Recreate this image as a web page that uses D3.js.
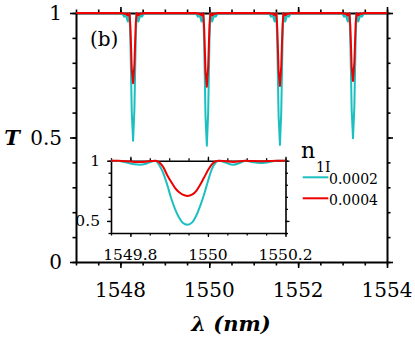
<!DOCTYPE html>
<html>
<head>
<meta charset="utf-8">
<script src="https://cdn.jsdelivr.net/npm/d3@7"></script>
<style>
  body { margin: 0; background: #fff; }
  svg { display: block; }
  text { font-family: "DejaVu Serif", serif; fill: #000; }
  .axis path, .axis line { stroke: #000; }
</style>
</head>
<body>
<script>
var W = 415, H = 342;

// legend / series
var seriesNames = ["0.0002", "0.0004"],
    seriesColors = ["#1cbfbf", "#ee0000"];

// main panel: wavelength (nm) and transmission
var mainLambda = [1547,
  1548.035, 1548.085, 1548.125, 1548.165, 1548.205, 1548.225, 1548.255, 1548.285, 1548.315, 1548.345, 1548.365, 1548.405, 1548.445, 1548.485, 1548.535,
  1549.695, 1549.745, 1549.785, 1549.825, 1549.865, 1549.885, 1549.915, 1549.945, 1549.975, 1550.005, 1550.025, 1550.065, 1550.105, 1550.145, 1550.195,
  1551.34, 1551.39, 1551.43, 1551.47, 1551.51, 1551.53, 1551.56, 1551.59, 1551.62, 1551.65, 1551.67, 1551.71, 1551.75, 1551.79, 1551.84,
  1552.985, 1553.035, 1553.075, 1553.115, 1553.155, 1553.175, 1553.205, 1553.235, 1553.265, 1553.295, 1553.315, 1553.355, 1553.395, 1553.435, 1553.485,
  1554];
var mainCyan = [1,
  1, .985, .99, .966, 1, .885, .601, .487, .615, .904, 1, .966, .99, .985, 1,
  1, .985, .99, .966, 1, .88, .585, .467, .60, .90, 1, .966, .99, .985, 1,
  1, .985, .99, .966, 1, .881, .588, .47, .602, .90, 1, .966, .99, .985, 1,
  1, .985, .99, .966, 1, .887, .609, .497, .623, .905, 1, .966, .99, .985, 1,
  1];
var mainRed = [1,
  1, .997, .998, .99, 1, .943, .776, .718, .795, .957, 1, .99, .998, .997, 1,
  1, .997, .998, .99, 1, .94, .765, .704, .785, .955, 1, .99, .998, .997, 1,
  1, .997, .998, .99, 1, .941, .767, .707, .787, .955, 1, .99, .998, .997, 1,
  1, .997, .998, .99, 1, .945, .783, .727, .802, .958, 1, .99, .998, .997, 1,
  1];

// inset: zoom on the dip near 1550 nm
var insetLambda = [1549.75, 1549.77, 1549.79, 1549.81, 1549.825, 1549.84, 1549.855, 1549.865, 1549.875, 1549.885,
  1549.895, 1549.905, 1549.915, 1549.925, 1549.935, 1549.947, 1549.96, 1549.97, 1549.98, 1549.99,
  1550.0, 1550.01, 1550.02, 1550.028, 1550.045, 1550.065, 1550.085, 1550.097, 1550.115, 1550.135,
  1550.155, 1550.178, 1550.2];
var insetCyan = [1, .998, .985, .97, .966, .975, .993, 1, .96, .895,
  .80, .69, .60, .53, .485, .468, .49, .545, .625, .72,
  .83, .93, .985, 1, .985, .966, .985, 1, .988, .98,
  .988, 1, 1];
var insetRed = [1, .999, .995, .99, .989, .992, .998, 1, .985, .945,
  .88, .825, .775, .74, .718, .708, .72, .75, .80, .86,
  .92, .97, .995, 1, .996, .99, .996, 1, .997, .995,
  .997, 1, 1];

// tick labels
var xMajor = [1548, 1550, 1552, 1554],
    yMajor = [0, 0.5, 1],
    ixMajor = [1549.8, 1550, 1550.2],
    iyMajor = [0.5, 1];

var svg = d3.select("body").append("svg")
    .attr("width", W)
    .attr("height", H);

var x = d3.scaleLinear().domain([1547, 1554]).range([76, 387]),
    y = d3.scaleLinear().domain([0, 1]).range([262, 13]);

var xi = d3.scaleLinear().domain([1549.75, 1550.2]).range([111, 285.5]),
    yi = d3.scaleLinear().domain([0.4, 1]).range([233, 160.7]);

var xMinor = d3.range(0, 15).map(function(i) { return 1547 + i * 0.5; }),
    yMinor = d3.range(0, 11).map(function(i) { return i / 10; }),
    ixMinor = d3.range(0, 10).map(function(i) { return 1549.75 + i * 0.05; }),
    iyMinor = d3.range(0, 7).map(function(i) { return 0.4 + i / 10; });

function fmt(d) { return d3.format("~g")(d); }

// draw a frame of four axes: minor ticks everywhere, major ticks longer
function frame(g, sx, sy, minX, majX, minY, majY, big, small, lw) {
  var r = sx.range(), t = sy.range();
  var specs = [
    [d3.axisBottom(sx), "translate(0," + t[0] + ")", minX, majX],
    [d3.axisTop(sx), "translate(0," + t[1] + ")", minX, majX],
    [d3.axisLeft(sy), "translate(" + r[0] + ",0)", minY, majY],
    [d3.axisRight(sy), "translate(" + r[1] + ",0)", minY, majY]
  ];
  specs.forEach(function(s) {
    g.append("g").attr("class", "axis").attr("transform", s[1])
      .call(s[0].tickValues(s[2]).tickSize(small).tickSizeOuter(0).tickFormat(""))
      .call(function(a) {
        a.select(".domain").attr("stroke-width", lw);
        a.selectAll(".tick line").attr("stroke-width", lw * 0.8);
      });
    var ax = s[0].scale().copy ? s[0] : s[0];
    g.append("g").attr("class", "axis").attr("transform", s[1])
      .call(ax.tickValues(s[3]).tickSize(big).tickSizeOuter(0).tickFormat(""))
      .call(function(a) {
        a.select(".domain").remove();
        a.selectAll(".tick line").attr("stroke-width", lw * 0.8);
      });
  });
}

// main frame
var gMain = svg.append("g");
frame(gMain, x, y, xMinor, xMajor, yMinor, yMajor, 6, 3.5, 2);

// main tick labels
gMain.selectAll(".xlab").data(xMajor).enter().append("text")
    .attr("x", function(d) { return x(d); })
    .attr("y", 297)
    .attr("text-anchor", "middle")
    .style("font-size", "20px")
    .text(fmt);
gMain.selectAll(".ylab").data(yMajor).enter().append("text")
    .attr("x", 62)
    .attr("y", function(d) { return y(d) + 7; })
    .attr("text-anchor", "end")
    .style("font-size", "20px")
    .text(fmt);

// axis titles
svg.append("text")
    .attr("x", 231).attr("y", 331)
    .attr("text-anchor", "middle")
    .style("font-size", "21px").style("font-weight", "bold").style("font-style", "italic")
    .text("λ (nm)");
svg.append("text")
    .attr("x", 12).attr("y", 145)
    .attr("text-anchor", "middle")
    .style("font-size", "21px").style("font-weight", "bold").style("font-style", "italic")
    .text("T");
svg.append("text")
    .attr("x", 90).attr("y", 46)
    .style("font-size", "20px")
    .text("(b)");

// main curves
var mainLine = d3.line()
    .x(function(d) { return x(d[0]); })
    .y(function(d) { return y(d[1]); });
[mainCyan, mainRed].forEach(function(vals, k) {
  svg.append("path")
      .datum(mainLambda.map(function(l, i) { return [l, vals[i]]; }))
      .attr("fill", "none")
      .attr("stroke", seriesColors[k])
      .attr("stroke-width", 2)
      .attr("stroke-linejoin", "round")
      .attr("d", mainLine);
});

// inset
var gIn = svg.append("g");
gIn.append("rect")
    .attr("x", xi.range()[0]).attr("y", yi.range()[1])
    .attr("width", xi.range()[1] - xi.range()[0])
    .attr("height", yi.range()[0] - yi.range()[1])
    .attr("fill", "#fff");
frame(gIn, xi, yi, ixMinor, ixMajor, iyMinor, iyMajor, 4, 2.5, 1.6);

gIn.selectAll(".ixlab").data(ixMajor).enter().append("text")
    .attr("x", function(d) { return xi(d); })
    .attr("y", 260)
    .attr("text-anchor", "middle")
    .style("font-size", "15.5px")
    .text(fmt);
gIn.selectAll(".iylab").data(iyMajor).enter().append("text")
    .attr("x", 100)
    .attr("y", function(d) { return yi(d) + 5.5; })
    .attr("text-anchor", "end")
    .style("font-size", "15.5px")
    .text(fmt);

svg.append("clipPath").attr("id", "inclip")
  .append("rect")
    .attr("x", xi.range()[0]).attr("y", yi.range()[1] - 3)
    .attr("width", xi.range()[1] - xi.range()[0])
    .attr("height", yi.range()[0] - yi.range()[1] + 3);

var insetLine = d3.line()
    .curve(d3.curveMonotoneX)
    .x(function(d) { return xi(d[0]); })
    .y(function(d) { return yi(d[1]); });
[insetCyan, insetRed].forEach(function(vals, k) {
  gIn.append("path")
      .datum(insetLambda.map(function(l, i) { return [l, vals[i]]; }))
      .attr("clip-path", "url(#inclip)")
      .attr("fill", "none")
      .attr("stroke", seriesColors[k])
      .attr("stroke-width", 2)
      .attr("d", insetLine);
});

// legend
var leg = svg.append("g");
var title = leg.append("text").attr("x", 301).attr("y", 157.5).style("font-size", "22px");
title.append("tspan").text("n");
leg.append("text").attr("x", 316).attr("y", 171.7).style("font-size", "14px").text("1I");
seriesNames.forEach(function(name, k) {
  var ly = 177.3 + k * 21;
  leg.append("line")
      .attr("x1", 302.7).attr("x2", 328.3)
      .attr("y1", ly).attr("y2", ly)
      .attr("stroke", seriesColors[k])
      .attr("stroke-width", 2);
  leg.append("text")
      .attr("x", 329).attr("y", ly + 6.7)
      .style("font-size", "14px")
      .text(name);
});
</script>
</body>
</html>
